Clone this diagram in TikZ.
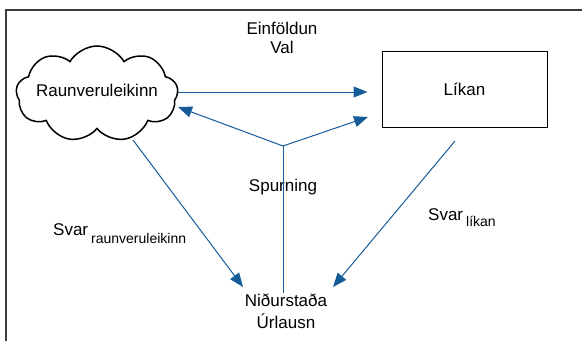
\documentclass[tikz,border=0pt]{standalone}
\usepackage{fontspec}
\setmainfont{Liberation Sans}
\usetikzlibrary{arrows.meta,shapes.symbols}

\definecolor{linkblue}{RGB}{22,92,152}
\definecolor{framegray}{RGB}{60,60,60}

\tikzset{
  lbl/.style={font=\fontsize{17}{20}\selectfont, inner sep=0pt},
  link/.style={draw=linkblue, line width=1pt},
  arr/.style={link, -{Triangle[length=14pt,width=11pt]}},
}
\newcommand{\subtxt}[2][7pt]{\raisebox{-#1}{\fontsize{14}{16}\selectfont #2}}

\begin{document}
\begin{tikzpicture}[x=1pt,y=-1pt]

    \useasboundingbox (0,0) rectangle (582,341);

    % frame
    \draw[framegray, line width=2pt] (6,341) -- (6,10) -- (582,10);

    \node[lbl, cloud, draw, line width=1.5pt, cloud puffs=9, cloud puff arc=120, aspect=1.6,
          minimum width=162pt, minimum height=96pt] (raun) at (97,94) {};
    \node[lbl] (rauntxt) at (97,90) {Raunveruleikinn};
    \node[lbl, draw, line width=1pt, minimum width=165pt, minimum height=76pt] (likan) at (464.5,89) {L\'ikan};

    \node[lbl, align=center, font=\fontsize{17}{19}\selectfont] (einf) at (282,37.5) {Einföldun\\Val};
    \node[lbl] (spurn) at (283,187) {Spurning};
    \node[lbl, align=center, font=\fontsize{17}{22}\selectfont] (nid) at (286,311) {Niðurstaða\\Úrlausn};

    \node[lbl, anchor=base west] (svarR) at (53,235) {Svar\hspace{3pt}\subtxt[8pt]{raunveruleikinn}};
    \node[lbl, anchor=base west] (svarL) at (428,220) {Svar\hspace{3pt}\subtxt[6pt]{líkan}};

    \coordinate (jn) at (283,146);
    \coordinate (tipR) at (368,117);
    \coordinate (tipC) at (178,107);
    \coordinate (tipNL) at (243,287);
    \coordinate (tipNR) at (333,287);
    \coordinate (startL) at (455,141);
    \coordinate (startR) at (133,140);

    \draw[arr] (raun.east |- 0,92) -- (likan.west |- 0,92) [shorten >=14pt];
    \draw[arr] (jn) -- (tipC);
    \draw[arr] (jn) -- (tipR);
    \draw[link] (jn) -- (nid.north -| jn);
    \draw[arr] (startR) -- (tipNL);
    \draw[arr] (startL) -- (tipNR);

\end{tikzpicture}
\end{document}
